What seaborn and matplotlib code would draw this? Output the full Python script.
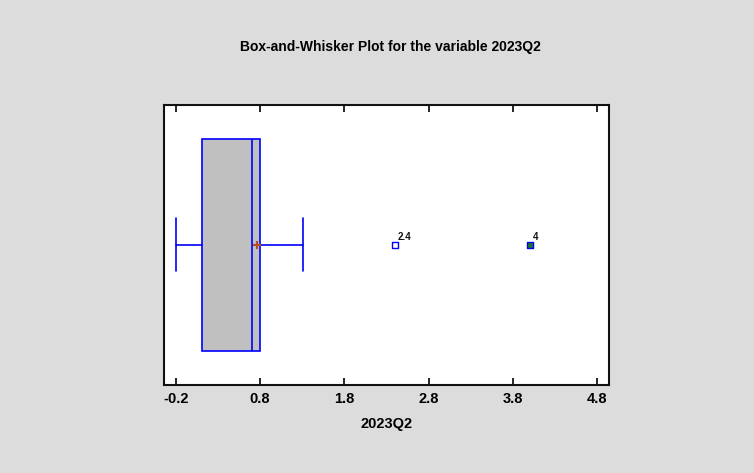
# Box-and-whisker plot for the variable 2023Q2 (Statgraphics style)
import matplotlib
matplotlib.use("Agg")
import matplotlib.pyplot as plt
import seaborn as sns
import pandas as pd

# summary values
whisker_low = -0.2
q1 = 0.11
median = 0.70
q3 = 0.80
whisker_high = 1.31
mean_value = 0.77
outside_points = [2.4]
far_outside_points = [4.0]
outlier_labels = ["2.4", "4"]
x_ticks = [-0.2, 0.8, 1.8, 2.8, 3.8, 4.8]
variable = "2023Q2"

sns.set_style("white")
plt.rcParams["font.family"] = ["Liberation Sans", "DejaVu Sans"]
plt.rcParams["text.color"] = "black"
plt.rcParams["axes.labelcolor"] = "black"

bg = "#DCDCDC"
fig = plt.figure(figsize=(7.54, 4.73), dpi=100, facecolor=bg)
ax = fig.add_axes([0.217, 0.187, 0.591, 0.591])
ax.set_facecolor("white")

stats = [{
    "whislo": whisker_low, "q1": q1, "med": median, "q3": q3,
    "whishi": whisker_high, "mean": mean_value, "fliers": [],
}]
ax.bxp(stats, positions=[0], widths=[1.0], vert=False, patch_artist=True,
       showmeans=True, showfliers=False,
       boxprops=dict(facecolor="#C0C0C0", edgecolor="#0000FF", linewidth=1.2),
       medianprops=dict(color="#0000FF", linewidth=1.2),
       whiskerprops=dict(color="#0000FF", linewidth=1.2),
       capprops=dict(color="#0000FF", linewidth=1.2),
       capwidths=[0.25],
       meanprops=dict(marker="+", markeredgecolor="#B05020", markersize=6,
                      markeredgewidth=1.5))

pts = pd.DataFrame({
    "x": outside_points + far_outside_points,
    "y": [0.0] * (len(outside_points) + len(far_outside_points)),
    "kind": ["outside"] * len(outside_points) + ["far"] * len(far_outside_points),
})
sns.scatterplot(data=pts[pts.kind == "outside"], x="x", y="y", ax=ax,
                marker="s", s=18, facecolor="none", edgecolor="#0000FF",
                linewidth=1.0, legend=False, zorder=5)
sns.scatterplot(data=pts[pts.kind == "far"], x="x", y="y", ax=ax,
                marker="s", s=18, facecolor="#1E7A1E", edgecolor="#0000FF",
                linewidth=1.0, legend=False, zorder=5)
for xv, lab in zip(pts["x"], outlier_labels):
    ax.text(xv + 0.035, -0.012, lab, fontsize=7, fontweight="bold",
            ha="left", va="bottom", color="#111111")

ax.set_xlim(-0.343, 4.943)
ax.set_ylim(0.66, -0.66)
ax.set_yticks([])
ax.set_xticks(x_ticks)
ax.set_xticklabels([f"{t:.1f}" for t in x_ticks], fontsize=10.5, fontweight="bold")
ax.tick_params(axis="x", direction="in", length=5, width=1.2, top=True,
               bottom=True, pad=5.5, colors="black", labelcolor="black")
for s in ax.spines.values():
    s.set_visible(True)
    s.set_color("#111111")
    s.set_linewidth(1.5)

ax.set_xlabel(variable, fontsize=10.5, fontweight="bold", labelpad=7.5)
ax.set_ylabel("")
fig.text(0.518, 0.9, f"Box-and-Whisker Plot for the variable {variable}",
         ha="center", va="center", fontsize=10, fontweight="bold")

fig.savefig("out.png", dpi=100, facecolor=bg)
